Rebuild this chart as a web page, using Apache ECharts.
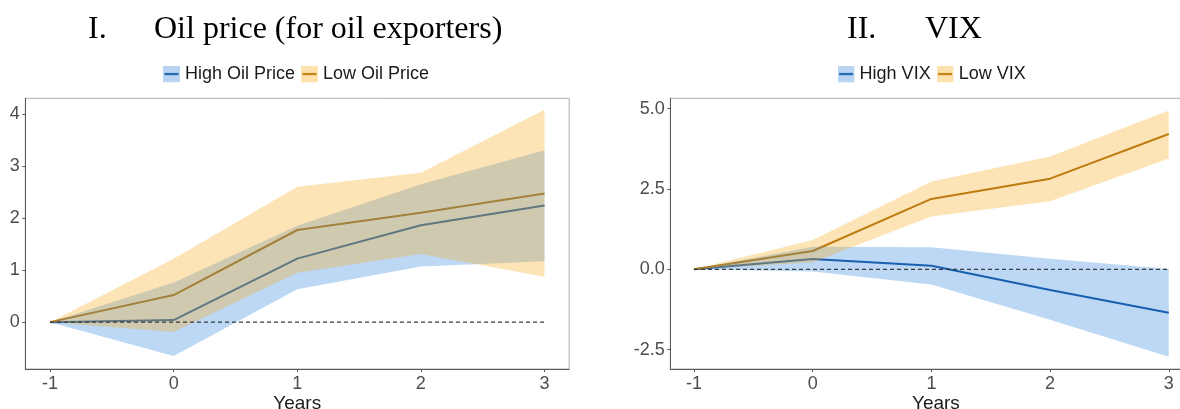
<!DOCTYPE html>
<html>
<head>
<meta charset="utf-8">
<script src="https://cdn.jsdelivr.net/npm/echarts@6/dist/echarts.min.js"></script>
<style>
html,body{margin:0;padding:0;background:#fff;}
#chart{width:1180px;height:409px;}
</style>
</head>
<body>
<div id="chart"></div>
<script>
// ---- data ----
const years = [-1, 0, 1, 2, 3];
const xTicks = [-1, 0, 1, 2, 3];
const oilTicks = [0, 1, 2, 3, 4];
const vixTicks = [-2.5, 0, 2.5, 5];
const zeroLine = [0, 0, 0, 0, 0];

const oilHighMean = [0, 0.04, 1.22, 1.86, 2.24];
const oilHighLo   = [0, -0.65, 0.63, 1.07, 1.17];
const oilHighHi   = [0, 0.76, 1.85, 2.65, 3.30];
const oilLowMean  = [0, 0.52, 1.77, 2.10, 2.47];
const oilLowLo    = [0, -0.19, 0.95, 1.31, 0.87];
const oilLowHi    = [0, 1.22, 2.60, 2.87, 4.08];

const vixHighMean = [0, 0.32, 0.11, -0.64, -1.35];
const vixHighLo   = [0, -0.07, -0.47, -1.57, -2.72];
const vixHighHi   = [0, 0.70, 0.69, 0.33, 0.01];
const vixLowMean  = [0, 0.57, 2.19, 2.82, 4.21];
const vixLowLo    = [0, 0.22, 1.64, 2.12, 3.45];
const vixLowHi    = [0, 0.91, 2.73, 3.51, 4.94];

const titles = [['I.', 'Oil price (for oil exporters)'], ['II.', 'VIX']];
const legendNames = [['High Oil Price', 'Low Oil Price'], ['High VIX', 'Low VIX']];

// ---- styles ----
const SANS = '"Liberation Sans", Arial, sans-serif';
const SERIF = '"Liberation Serif", "Times New Roman", serif';
const blueBand = 'rgba(40,130,220,0.31)';
const orangeBand = 'rgba(250,170,30,0.32)';
const blueLine = '#14509e';
const orangeLine = '#a36508';

function icon(fill, line) {
  const svg = '<svg xmlns="http://www.w3.org/2000/svg" width="17" height="17">' +
    '<rect width="17" height="17" fill="' + fill + '"/>' +
    '<rect x="1.5" y="7.4" width="14" height="2.3" fill="' + line + '"/></svg>';
  return 'image://data:image/svg+xml;charset=utf-8,' + encodeURIComponent(svg);
}
const blueIcon = icon('#b9d5f1', '#2a6bb6');
const orangeIcon = icon('#fde2ae', '#c4871c');

function xAxisCfg(gi, shift) {
  return {
    type: 'value', gridIndex: gi, min: -1.2, max: 3.2,
    axisLine: {show: true, onZero: false, lineStyle: {color: '#5a5a5a', width: 1}},
    axisTick: {show: true, length: 3, customValues: xTicks, lineStyle: {color: '#5a5a5a'}},
    axisLabel: {customValues: xTicks, margin: 6.5, fontSize: 18, color: '#4d4d4d', fontFamily: SANS},
    splitLine: {show: false},
    name: 'Years', nameLocation: 'middle', nameGap: 25, nameMoveOverlap: false,
    nameTextStyle: {fontSize: 19, color: '#1a1a1a', fontFamily: SANS, padding: [0, 0, 0, shift]}
  };
}
function yAxisCfg(gi, min, max, ticks, fmt) {
  return {
    type: 'value', gridIndex: gi, min: min, max: max,
    axisLine: {show: true, onZero: false, lineStyle: {color: '#5a5a5a', width: 1}},
    axisTick: {show: true, length: 3, customValues: ticks, lineStyle: {color: '#5a5a5a'}},
    axisLabel: {customValues: ticks, margin: 5.5, fontSize: 18, color: '#4d4d4d', fontFamily: SANS, formatter: fmt},
    splitLine: {show: false}
  };
}

function band(gi, lo, hi, color) {
  return {
    type: 'custom', xAxisIndex: gi, yAxisIndex: gi, z: 3, silent: true,
    data: years.map((x, i) => [x, lo[i], hi[i]]),
    encode: {x: 0, y: [1, 2]},
    renderItem: function (params, api) {
      if (params.dataIndex !== 0) return null;
      const pts = [];
      for (let i = 0; i < years.length; i++) pts.push(api.coord([years[i], hi[i]]));
      for (let i = years.length - 1; i >= 0; i--) pts.push(api.coord([years[i], lo[i]]));
      return {type: 'polygon', shape: {points: pts}, style: {fill: color}};
    }
  };
}
function meanLine(gi, name, vals, color) {
  return {
    type: 'line', name: name, xAxisIndex: gi, yAxisIndex: gi, z: 2, silent: true,
    data: years.map((x, i) => [x, vals[i]]), symbol: 'none',
    lineStyle: {color: color, width: 2}, itemStyle: {color: color}
  };
}
function zeroRef(gi) {
  return {
    type: 'line', xAxisIndex: gi, yAxisIndex: gi, z: 4, silent: true,
    data: years.map((x, i) => [x, zeroLine[i]]), symbol: 'none',
    lineStyle: {color: '#3a3a3a', width: 1.1, type: [4, 3]}
  };
}

const chart = echarts.init(document.getElementById('chart'), null, {renderer: 'canvas'});
const option = {
  backgroundColor: '#ffffff',
  animation: false,
  grid: [
    {left: 25.3, top: 98.3, width: 543.9, height: 270.7, outerBoundsMode: 'none', containLabel: false,
     show: true, borderColor: '#ababab', borderWidth: 1},
    {left: 670.3, top: 98.3, width: 522.2, height: 270.7, outerBoundsMode: 'none', containLabel: false,
     show: true, borderColor: '#ababab', borderWidth: 1}
  ],
  xAxis: [xAxisCfg(0, 0), xAxisCfg(1, 9)],
  yAxis: [
    yAxisCfg(0, -0.9, 4.3, oilTicks, v => String(v)),
    yAxisCfg(1, -3.1, 5.32, vixTicks, v => v.toFixed(1))
  ],
  legend: [
    {
      left: 163, top: 65, padding: 0, itemWidth: 17, itemHeight: 17, itemGap: 6, selectedMode: false,
      textStyle: {fontSize: 18, color: '#1a1a1a', fontFamily: SANS},
      data: [{name: legendNames[0][0], icon: blueIcon}, {name: legendNames[0][1], icon: orangeIcon}]
    },
    {
      left: 837.6, top: 65, padding: 0, itemWidth: 17, itemHeight: 17, itemGap: 6, selectedMode: false,
      textStyle: {fontSize: 18, color: '#1a1a1a', fontFamily: SANS},
      data: [{name: legendNames[1][0], icon: blueIcon}, {name: legendNames[1][1], icon: orangeIcon}]
    }
  ],
  graphic: [
    {type: 'text', left: 88, top: 14, style: {text: titles[0][0], font: '32px ' + SERIF, fill: '#000'}},
    {type: 'text', left: 154, top: 14, style: {text: titles[0][1], font: '32px ' + SERIF, fill: '#000'}},
    {type: 'text', left: 847, top: 14, style: {text: titles[1][0], font: '32px ' + SERIF, fill: '#000'}},
    {type: 'text', left: 925, top: 14, style: {text: titles[1][1], font: '32px ' + SERIF, fill: '#000'}}
  ],
  series: [
    meanLine(0, legendNames[0][0], oilHighMean, blueLine),
    meanLine(0, legendNames[0][1], oilLowMean, orangeLine),
    band(0, oilHighLo, oilHighHi, blueBand),
    band(0, oilLowLo, oilLowHi, orangeBand),
    zeroRef(0),
    meanLine(1, legendNames[1][0], vixHighMean, blueLine),
    meanLine(1, legendNames[1][1], vixLowMean, orangeLine),
    band(1, vixHighLo, vixHighHi, blueBand),
    band(1, vixLowLo, vixLowHi, orangeBand),
    zeroRef(1)
  ]
};
chart.setOption(option);
</script>
</body>
</html>
